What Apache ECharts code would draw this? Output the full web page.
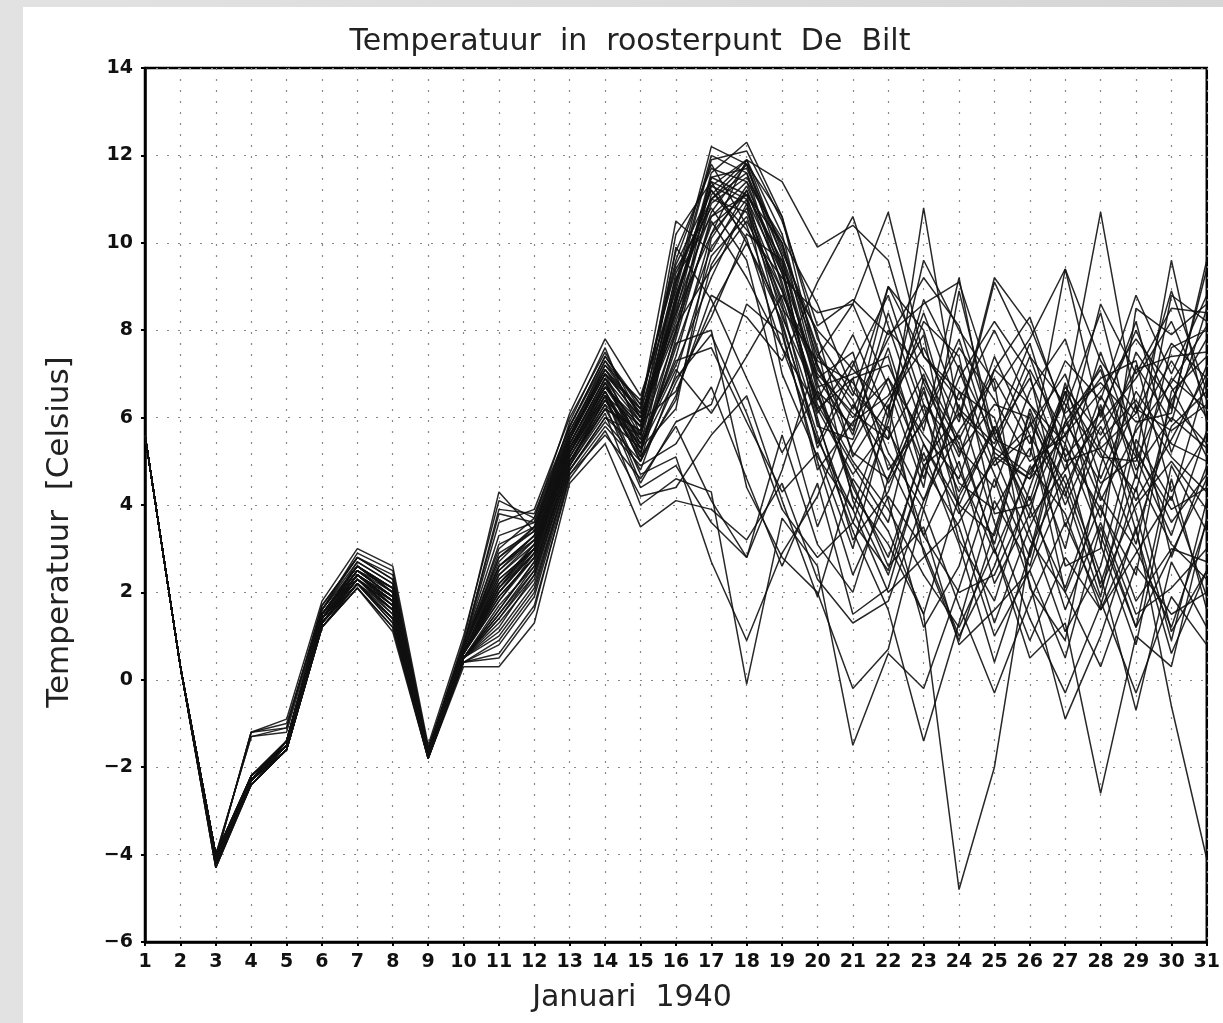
<!DOCTYPE html>
<html>
<head>
<meta charset="utf-8">
<script src="https://cdn.jsdelivr.net/npm/echarts@6/dist/echarts.min.js"></script>
<style>
html,body{margin:0;padding:0;width:1223px;height:1023px;overflow:hidden;background:linear-gradient(to right,#e2e2e2,#d6d6d6);}
#panel{position:absolute;left:23px;top:7px;right:0;bottom:0;background:#fff;}
#chart{position:absolute;left:0;top:0;width:1223px;height:1023px;}
</style>
</head>
<body>
<div id="panel"></div>
<div id="chart"></div>
<script>
const titleText = 'Temperatuur  in  roosterpunt  De  Bilt';
const xAxisTitle = 'Januari  1940';
const yAxisTitle = 'Temperatuur  [Celsius]';
const days = [1,2,3,4,5,6,7,8,9,10,11,12,13,14,15,16,17,18,19,20,21,22,23,24,25,26,27,28,29,30,31];
const yTicks = [-6,-4,-2,0,2,4,6,8,10,12,14];

const m01 = [5.6,0.3,-4.2,-2.3,-1.5,1.4,2.3,1.6,-1.7,0.6,1.8,2.9,5.2,6.8,5.4,8.6,11.6,12.3,10.6,7.2,5.6,8.4,6.1,4.3,5.8,4.1,6.6,5.2,3.1,6.4,7.8];
const m02 = [5.6,0.3,-4.1,-2.3,-1.6,1.3,2.2,1.4,-1.7,0.5,1.2,2.4,4.9,6.5,5.8,9.1,12.2,11.8,9.4,6.1,7.3,5.2,3.9,6.6,4.7,2.8,5.9,7.1,4.6,8.8,8.2];
const m03 = [5.6,0.3,-4.0,-2.2,-1.5,1.5,2.5,1.9,-1.6,0.7,2.6,3.2,5.5,7.1,6.2,10.5,9.8,11.2,9.1,6.3,4.9,3.6,6.9,5.4,3.1,6.2,4.3,1.9,5.5,4.1,6.9];
const m04 = [5.6,0.3,-4.3,-2.4,-1.6,1.2,2.1,1.1,-1.8,0.4,0.5,1.6,4.7,5.6,4.6,5.8,4.1,2.8,4.8,7.4,8.6,6.7,4.4,8.9,5.6,3.9,2.1,4.4,6.3,2.8,4.9];
const m05 = [5.6,0.3,-4.1,-1.2,-1.0,1.6,2.9,2.5,-1.6,0.9,4.3,3.4,5.9,7.6,5.6,7.9,11.1,11.9,11.4,9.9,10.4,9.6,6.8,5.1,7.4,5.6,4.2,6.5,5.1,3.3,5.7];
const m06 = [5.6,0.3,-4.0,-2.3,-1.4,1.5,2.6,2.0,-1.7,0.6,2.1,3.1,5.4,6.9,5.1,6.4,9.5,10.8,8.6,5.3,6.9,4.1,1.2,2.6,5.3,7.1,5.6,3.7,7.2,5.9,8.5];
const m07 = [5.6,0.3,-4.2,-2.3,-1.5,1.3,2.3,1.7,-1.7,0.5,1.5,2.6,5.0,6.3,4.4,4.9,3.6,2.8,5.6,3.1,2.0,4.6,6.3,3.2,1.8,4.4,6.6,3.1,0.8,4.6,1.6];
const m08 = [5.6,0.3,-4.1,-2.2,-1.5,1.4,2.4,1.8,-1.6,0.7,2.8,3.5,5.6,7.3,6.0,8.3,10.9,11.5,10.0,7.5,6.2,7.8,9.2,8.1,5.6,6.9,4.8,5.9,6.9,8.2,6.4];
const m09 = [5.6,0.3,-4.0,-1.3,-1.1,1.7,2.8,2.3,-1.6,0.8,3.9,3.8,5.8,7.4,6.3,9.6,11.8,10.4,8.1,5.6,3.4,1.6,-1.4,1.3,4.1,2.6,5.4,3.3,1.2,4.9,3.4];
const m10 = [5.6,0.3,-4.2,-2.3,-1.6,1.3,2.2,1.3,-1.7,0.5,1.0,2.1,4.8,6.0,5.3,7.4,10.2,11.9,9.8,7.9,5.1,6.4,7.6,5.9,9.1,7.4,5.1,6.1,8.0,6.2,9.4];
const m11 = [5.6,0.3,-4.1,-2.3,-1.5,1.4,2.4,1.8,-1.7,0.6,2.3,3.0,5.3,6.7,5.5,9.9,8.7,6.9,5.2,6.6,5.8,9.0,7.4,6.6,6.0,3.4,1.1,2.6,5.8,7.3,6.0];
const m12 = [5.6,0.3,-4.3,-2.4,-1.6,1.2,2.1,1.2,-1.8,0.3,0.3,1.3,4.5,5.4,3.5,4.1,3.9,3.2,4.5,2.3,1.3,1.8,4.1,6.3,3.6,1.4,-0.3,1.7,4.4,1.1,2.5];
const m13 = [5.6,0.3,-4.1,-2.2,-1.4,1.5,2.5,2.1,-1.6,0.7,2.5,3.3,5.6,7.0,6.0,8.0,10.5,9.2,7.6,6.2,6.9,7.2,5.4,3.8,5.0,5.8,7.0,4.6,6.6,5.4,5.0];
const m14 = [5.6,0.3,-4.0,-2.3,-1.5,1.4,2.7,2.2,-1.7,0.6,2.0,3.0,5.2,6.6,5.0,6.8,8.3,10.2,9.6,6.6,4.4,2.8,5.2,3.1,0.4,2.9,6.2,8.4,5.2,3.9,4.4];
const m15 = [5.6,0.3,-4.2,-2.3,-1.5,1.3,2.3,1.6,-1.7,0.5,1.6,2.7,5.0,6.2,5.7,10.2,11.4,10.0,8.4,5.9,3.6,5.9,8.7,7.1,4.9,5.6,2.0,0.3,2.6,1.5,2.0];
const m16 = [5.6,0.3,-4.1,-1.2,-0.9,1.8,3.0,2.6,-1.5,1.0,4.1,3.7,6.1,7.8,6.5,8.9,11.9,12.1,10.5,8.1,8.7,7.9,8.6,9.1,6.6,7.8,9.4,7.3,6.1,7.7,6.9];
const m17 = [5.6,0.3,-4.2,-2.4,-1.6,1.2,2.2,1.3,-1.8,0.4,0.8,1.9,4.7,5.8,4.9,5.4,6.7,4.6,2.6,4.5,1.5,2.1,4.9,5.6,3.0,0.5,1.3,-2.6,1.0,0.3,3.7];
const m18 = [5.6,0.3,-4.0,-2.2,-1.4,1.6,2.6,2.0,-1.6,0.8,3.3,3.6,5.7,7.2,6.4,9.4,10.8,9.6,6.4,3.5,5.4,6.9,5.6,4.6,7.1,8.3,6.0,4.1,5.7,6.8,8.1];
const m19 = [5.6,0.3,-4.1,-2.3,-1.5,1.4,2.4,1.9,-1.7,0.6,2.4,3.1,5.4,6.9,5.9,8.7,11.3,10.9,7.0,5.1,3.9,6.3,2.9,0.9,3.4,6.1,4.0,5.8,4.1,5.5,7.0];
const m20 = [5.6,0.3,-4.3,-2.3,-1.6,1.3,2.2,1.5,-1.7,0.5,1.3,2.3,4.9,6.1,4.0,4.6,4.3,-0.1,3.7,2.6,-1.5,0.6,-0.2,2.1,4.6,2.2,-0.9,1.0,3.5,-0.6,-4.1];
const m21 = [5.6,0.3,-4.1,-2.2,-1.5,1.5,2.5,2.0,-1.6,0.7,2.9,3.4,5.5,7.2,6.1,8.1,9.4,10.5,8.9,6.9,7.5,4.8,5.9,7.6,6.4,5.0,5.6,7.2,4.8,6.0,5.3];
const m22 = [5.6,0.3,-4.2,-2.3,-1.5,1.4,2.3,1.7,-1.7,0.6,1.9,2.8,5.1,6.4,5.6,9.3,11.0,11.6,9.7,6.8,4.2,3.1,1.5,4.2,5.7,7.7,5.1,2.1,4.0,5.0,3.9];
const m23 = [5.6,0.3,-4.0,-2.3,-1.4,1.5,2.6,2.1,-1.6,0.7,2.7,3.5,5.7,7.1,5.9,6.6,8.5,10.0,8.2,5.4,7.2,8.8,6.3,5.3,4.4,6.6,7.8,5.3,6.1,8.9,6.6];
const m24 = [5.6,0.3,-4.2,-2.4,-1.6,1.2,2.1,1.2,-1.8,0.4,0.6,1.7,4.6,5.7,4.2,4.4,5.6,6.5,4.1,1.9,4.6,3.4,1.5,-4.8,-2.0,3.0,4.7,2.4,-0.7,2.7,1.2];
const m25 = [5.6,0.3,-4.1,-2.3,-1.5,1.4,2.4,1.8,-1.7,0.6,2.2,3.0,5.3,6.6,5.2,7.6,9.9,11.0,9.3,7.0,6.1,5.5,7.0,4.8,2.9,4.8,5.8,6.9,7.3,4.3,5.6];
const m26 = [5.6,0.3,-4.0,-1.3,-1.2,1.6,2.7,2.2,-1.6,0.8,3.6,3.9,6.0,7.5,6.0,8.4,11.5,11.7,9.9,7.6,4.1,2.4,4.8,6.9,8.2,7.0,3.5,5.5,6.4,5.1,4.3];
const m27 = [5.6,0.3,-4.2,-2.3,-1.6,1.3,2.3,1.6,-1.7,0.5,1.4,2.5,5.0,6.3,5.4,7.1,6.1,7.4,8.8,7.2,5.2,4.6,6.7,3.9,1.3,3.5,5.3,3.9,2.4,6.6,7.4];
const m28 = [5.6,0.3,-4.1,-2.3,-1.5,1.4,2.4,1.9,-1.7,0.6,2.5,3.2,5.4,6.8,5.3,6.2,10.1,11.3,9.5,5.8,5.5,7.6,5.0,6.1,5.3,4.7,6.4,10.7,6.2,5.7,6.3];
const m29 = [5.6,0.3,-4.2,-2.2,-1.5,1.4,2.5,1.9,-1.7,0.6,2.1,2.9,5.1,6.5,4.7,5.1,2.7,0.9,2.9,4.2,6.3,5.0,3.3,2.0,2.4,4.2,1.6,3.6,1.5,2.1,3.0];
const m30 = [5.6,0.3,-4.0,-2.3,-1.4,1.5,2.6,2.0,-1.6,0.7,3.1,3.5,5.6,7.0,6.2,9.8,11.7,11.4,10.1,8.6,6.6,5.7,4.1,5.7,6.9,5.4,7.3,6.4,8.8,7.0,8.8];
const m31 = [5.6,0.3,-4.1,-2.3,-1.5,1.4,2.4,1.8,-1.7,0.6,2.2,3.1,5.3,6.7,5.8,8.8,11.0,10.7,8.7,6.4,7.9,6.0,8.2,7.4,3.8,4.0,5.9,4.5,5.1,9.6,5.9];
const m32 = [5.6,0.3,-4.2,-2.3,-1.5,1.3,2.3,1.6,-1.7,0.5,1.7,2.6,5.0,6.4,5.2,8.0,11.4,11.0,8.0,4.8,5.9,6.5,7.9,4.0,5.8,3.7,4.8,7.5,5.3,3.6,4.7];
const m33 = [5.6,0.3,-4.1,-2.2,-1.5,1.4,2.5,1.9,-1.6,0.6,2.4,3.2,5.4,6.9,5.6,8.5,10.7,11.8,10.6,7.8,6.5,9.0,8.0,5.2,6.3,6.0,2.6,3.0,8.5,7.9,8.6];
const m34 = [5.6,0.3,-4.0,-2.3,-1.4,1.5,2.6,2.1,-1.6,0.7,2.6,3.3,5.5,7.0,5.4,7.3,7.6,5.9,4.3,5.2,3.0,6.1,9.6,8.0,6.8,2.1,0.9,4.9,7.5,6.3,5.4];
const m35 = [5.6,0.3,-4.2,-2.4,-1.6,1.3,2.2,1.4,-1.7,0.5,1.1,2.2,4.8,6.0,5.6,9.0,12.0,11.6,9.0,6.0,3.2,4.3,6.6,4.5,3.9,5.3,3.0,6.3,3.8,0.9,4.1];
const m36 = [5.6,0.3,-4.1,-2.3,-1.5,1.4,2.4,1.8,-1.7,0.6,2.0,2.9,5.2,6.6,5.0,6.5,8.8,8.3,7.3,9.1,10.6,8.1,5.7,9.2,5.1,4.6,6.7,5.6,7.1,7.4,7.5];
const m37 = [5.6,0.3,-4.0,-2.2,-1.4,1.6,2.8,2.3,-1.6,0.8,3.0,3.7,5.8,7.3,6.3,9.5,11.2,10.3,9.2,8.4,8.6,10.7,7.4,6.4,8.0,6.3,5.4,8.6,7.0,8.5,8.4];
const m38 = [5.6,0.3,-4.1,-2.3,-1.5,1.4,2.4,1.7,-1.7,0.6,1.9,2.8,5.2,6.5,5.3,7.7,8.0,4.4,2.8,2.0,-0.2,0.7,3.9,1.7,-0.3,1.8,3.6,1.8,-0.3,1.9,0.8];
const m39 = [5.6,0.3,-4.2,-2.3,-1.5,1.3,2.3,1.5,-1.7,0.5,1.5,2.5,5.0,6.2,4.8,7.0,9.7,10.6,8.5,7.3,6.8,5.5,10.8,6.0,9.2,8.1,6.1,6.8,5.9,6.1,9.6];
const m40 = [5.6,0.3,-4.1,-2.3,-1.6,1.4,2.3,1.7,-1.7,0.6,2.3,3.0,5.3,6.7,5.9,8.2,10.4,11.1,9.6,6.7,7.0,7.4,4.6,7.2,5.5,5.1,9.4,6.0,8.2,5.2,7.2];
const m41 = [5.6,0.3,-4.1,-2.3,-1.5,1.4,2.5,1.9,-1.6,0.6,2.2,3.0,5.3,6.8,5.5,7.2,9.2,10.9,8.9,6.5,5.0,3.9,2.4,1.2,3.0,0.9,2.8,1.6,3.4,0.6,2.5];
const m42 = [5.6,0.3,-4.2,-2.3,-1.5,1.3,2.4,1.8,-1.7,0.5,1.6,2.7,5.1,6.4,5.1,8.8,11.3,11.9,10.2,7.1,6.0,6.9,4.9,3.5,1.0,2.5,4.4,6.2,3.4,5.8,6.6];
const m43 = [5.6,0.3,-4.0,-2.2,-1.4,1.5,2.6,2.0,-1.6,0.7,2.8,3.4,5.6,7.1,6.1,9.2,10.6,11.4,9.3,6.2,4.7,5.8,3.3,5.0,2.2,3.8,6.8,4.2,3.0,1.2,3.6];
const m44 = [5.6,0.3,-4.1,-2.3,-1.5,1.4,2.3,1.8,-1.7,0.6,2.0,2.9,5.2,6.6,5.3,6.9,7.9,6.1,3.9,2.8,3.6,2.5,5.4,4.0,3.3,5.9,4.5,2.2,4.7,3.1,2.3];
const m45 = [5.6,0.3,-4.2,-2.3,-1.6,1.3,2.2,1.6,-1.7,0.5,1.4,2.4,4.9,6.2,5.7,8.7,11.0,11.8,9.7,7.4,6.4,4.5,6.0,7.8,5.2,4.6,5.6,6.6,7.8,6.7,5.1];
const m46 = [5.6,0.3,-4.1,-1.2,-1.1,1.7,2.8,2.4,-1.6,0.8,3.8,3.6,5.8,7.4,6.2,8.4,10.2,11.2,9.4,8.0,7.1,6.2,8.4,6.2,5.4,7.4,6.3,5.1,5.0,6.9,6.2];
const m47 = [5.6,0.3,-4.1,-2.3,-1.5,1.4,2.4,1.7,-1.7,0.6,1.8,2.8,5.2,6.5,4.5,5.9,6.3,8.6,7.9,5.0,2.4,4.2,3.0,1.0,2.6,4.9,3.8,1.6,2.9,4.2,1.9];
const m48 = [5.6,0.3,-4.2,-2.4,-1.6,1.2,2.2,1.4,-1.8,0.4,0.9,2.0,4.8,5.9,5.0,7.8,10.6,11.1,8.3,6.5,4.5,2.6,3.5,0.8,1.6,2.5,0.5,3.5,1.2,2.9,4.6];
const m49 = [5.6,0.3,-4.0,-2.3,-1.4,1.5,2.6,2.1,-1.6,0.7,2.6,3.3,5.5,7.0,6.0,8.6,11.5,11.1,10.0,6.9,5.7,8.0,7.1,5.5,7.1,6.3,5.0,5.3,4.3,7.6,8.0];
const m50 = [5.6,0.3,-4.1,-2.3,-1.5,1.4,2.4,1.8,-1.7,0.6,2.1,3.0,5.3,6.7,5.8,9.1,11.2,10.1,7.6,5.5,3.9,2.0,2.8,3.6,5.1,3.2,2.0,4.0,1.8,3.0,2.7];

const members = [m01,m02,m03,m04,m05,m06,m07,m08,m09,m10,m11,m12,m13,m14,m15,m16,m17,m18,m19,m20,
                 m21,m22,m23,m24,m25,m26,m27,m28,m29,m30,m31,m32,m33,m34,m35,m36,m37,m38,m39,m40,
                 m41,m42,m43,m44,m45,m46,m47,m48,m49,m50];

const FONT = '"DejaVu Sans", sans-serif';
const chart = echarts.init(document.getElementById('chart'), null, {renderer: 'canvas'});

const series = members.map((m, i) => ({
  name: 'lid ' + (i + 1),
  type: 'line',
  data: days.map((d, j) => [d, m[j]]),
  symbol: 'none',
  silent: true,
  lineStyle: {color: '#111', width: 1.5, opacity: 0.9},
  z: 3
}));

chart.setOption({
  animation: false,
  backgroundColor: 'transparent',
  title: {
    text: titleText,
    left: 625, top: 22, textAlign: 'center',
    textStyle: {fontFamily: FONT, fontSize: 30, fontWeight: 'normal', color: '#222'}
  },
  grid: {left: 145, top: 68, right: 14, bottom: 81, show: true, borderColor: '#000', borderWidth: 2.5, backgroundColor: 'transparent', containLabel: false},
  xAxis: {
    type: 'value', min: 1, max: 31, interval: 1,
    axisLine: {show: true, onZero: false, lineStyle: {color: '#000', width: 2.5}},
    axisTick: {show: true, length: 4, lineStyle: {color: '#000', width: 2}},
    axisLabel: {show: true, margin: 11, fontFamily: FONT, fontSize: 19, fontWeight: 'bold', color: '#111',
      formatter: v => String(days[days.indexOf(v)])},
    splitLine: {show: true, lineStyle: {color: '#888', width: 1.2, type: [2, 9]}}
  },
  yAxis: {
    type: 'value', min: -6, max: 14, interval: 2,
    axisLine: {show: true, onZero: false, lineStyle: {color: '#000', width: 2.5}},
    axisTick: {show: true, length: 4, lineStyle: {color: '#000', width: 2}},
    axisLabel: {show: true, margin: 12, fontFamily: FONT, fontSize: 19, fontWeight: 'bold', color: '#111',
      formatter: v => (yTicks.indexOf(v) >= 0 ? String(v).replace('-', '\u2212') : '')},
    splitLine: {show: true, lineStyle: {color: '#888', width: 1.2, type: [2, 9]}}
  },
  graphic: [
    {type: 'text', x: 632, y: 998, style: {text: xAxisTitle, font: '30px ' + FONT, fill: '#222', align: 'center', verticalAlign: 'middle'}},
    {type: 'text', x: 60, y: 532, rotation: Math.PI / 2, style: {text: yAxisTitle, font: '31px ' + FONT, fill: '#222', align: 'center', verticalAlign: 'middle'}}
  ],
  series: series
});
</script>
</body>
</html>
